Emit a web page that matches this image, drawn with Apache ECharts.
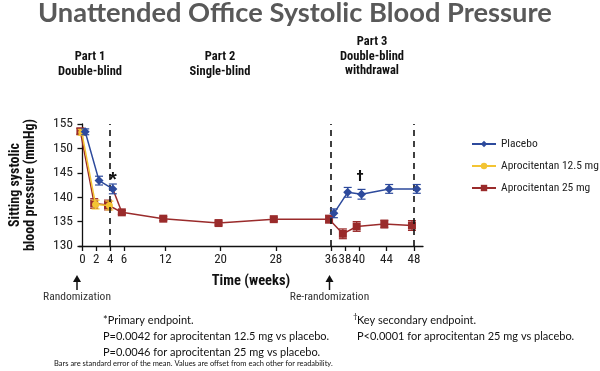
<!DOCTYPE html>
<html><head><meta charset="utf-8">
<script src="https://cdn.jsdelivr.net/npm/echarts@6/dist/echarts.min.js"></script>
<style>html,body{margin:0;padding:0;background:#fff}#c{width:600px;height:371px}</style>
</head><body><div id="c"></div>
<script>
// ---- data ----
const xTicks = [0,2,4,6,12,20,28,36,38,40,44,48];
const yTicks = [130,135,140,145,150,155];

const placeboWeeks = [0,2,4,36,38,40,44,48];
const placeboSBP   = [153.4,143.4,141.7,136.7,141.0,140.6,141.7,141.7];
const placeboSEM   = [0.6,0.9,1.0,0.9,1.0,1.0,0.9,0.9];

const apro125Weeks = [0,2,4];
const apro125SBP   = [153.3,138.5,138.3];
const apro125SEM   = [0.6,0.9,0.9];

const apro25Weeks = [0,2,4,6,12,20,28,36,38,40,44,48];
const apro25SBP   = [153.5,138.7,138.4,136.9,135.6,134.7,135.5,135.5,132.5,134.0,134.5,134.2];
const apro25SEM   = [0.6,1.0,1.0,0.4,0.4,0.4,0.4,0.8,1.0,1.0,0.8,1.0];

const seriesNames = ['Placebo','Aprocitentan 12.5 mg','Aprocitentan 25 mg'];
const phaseLines = [4,36,48];

// ---- styling ----
const BLUE='#2d4a9c', YEL='#f3c433', RED='#9a2b2b';
const NARROW='"Roboto Condensed","DejaVu Sans Condensed",sans-serif';
const CAL='Lato,"Open Sans",sans-serif';

function pts(weeks, vals, off){ return weeks.map((w,i)=>[w+off, vals[i]]); }
function errData(weeks, vals, sem, off){ return weeks.map((w,i)=>[w+off, vals[i]-sem[i], vals[i]+sem[i]]); }
function errSeries(data,color,z){
  return {type:'custom', silent:true, z:z, data:data,
    renderItem:function(params,api){
      const x=api.value(0);
      const lo=api.coord([x,api.value(1)]), hi=api.coord([x,api.value(2)]);
      const c=4;
      return {type:'group',children:[
        {type:'line',shape:{x1:lo[0],y1:lo[1],x2:hi[0],y2:hi[1]},style:{stroke:color,lineWidth:1.2}},
        {type:'line',shape:{x1:lo[0]-c,y1:lo[1],x2:lo[0]+c,y2:lo[1]},style:{stroke:color,lineWidth:1.2}},
        {type:'line',shape:{x1:hi[0]-c,y1:hi[1],x2:hi[0]+c,y2:hi[1]},style:{stroke:color,lineWidth:1.2}}
      ]};
    }};
}
const OFF_P=0.4, OFF_Y=-0.1, OFF_R=-0.3;

const chart=echarts.init(document.getElementById('c'),null,{renderer:'canvas'});
const pData=pts(placeboWeeks,placeboSBP,OFF_P);
const rData=pts(apro25Weeks,apro25SBP,OFF_R);
chart.setOption({
  animation:false,
  grid:{left:73.5,right:177,top:124,bottom:125},
  xAxis:{type:'value',min:-0.5,max:49.3,
    axisLine:{lineStyle:{color:'#111',width:1.3}},
    axisTick:{show:true,customValues:xTicks,length:5,lineStyle:{color:'#111',width:1.3}},
    axisLabel:{customValues:xTicks,color:'#222',fontFamily:NARROW,fontSize:13,margin:7},
    splitLine:{show:false},
    name:'Time (weeks)',nameLocation:'middle',nameGap:28,
    nameTextStyle:{fontFamily:NARROW,fontWeight:'bold',fontSize:14.5,color:'#111'}},
  yAxis:{type:'value',min:130,max:155,interval:5,
    axisLine:{show:true,lineStyle:{color:'#111',width:1.3}},
    axisTick:{show:true,length:5,lineStyle:{color:'#111',width:1.3}},
    axisLabel:{color:'#222',fontFamily:NARROW,fontSize:13.5,margin:6},
    splitLine:{show:false},
    name:'Sitting systolic\nblood pressure (mmHg)',nameLocation:'middle',nameGap:41,
    nameTextStyle:{fontFamily:NARROW,fontWeight:'bold',fontSize:14,color:'#111',lineHeight:15}},
  legend:{orient:'vertical',left:471,top:137,padding:0,itemGap:8,itemWidth:24,itemHeight:8,
    textStyle:{fontFamily:NARROW,fontSize:11.5,color:'#222',lineHeight:14},
    data:seriesNames},
  series:[
    {name:seriesNames[2],type:'line',data:rData,color:RED,symbol:'rect',symbolSize:8,
      lineStyle:{width:1.5},z:2,
      markLine:{silent:true,symbol:'none',label:{show:false},
        lineStyle:{color:'#111',type:[6,5],width:1.6},
        data:phaseLines.map(v=>({xAxis:v}))}},
    {type:'line',data:[pData[2],rData[3]],color:RED,symbol:'none',lineStyle:{width:1.5},z:2,silent:true},
    {name:seriesNames[1],type:'line',data:pts(apro125Weeks,apro125SBP,OFF_Y),color:YEL,symbol:'circle',symbolSize:7,lineStyle:{width:1.5},z:4},
    {name:seriesNames[0],type:'line',data:pData.slice(0,3),color:BLUE,symbol:'diamond',symbolSize:9,lineStyle:{width:1.5},z:5},
    {name:seriesNames[0],type:'line',data:pData.slice(3),color:BLUE,symbol:'diamond',symbolSize:9,lineStyle:{width:1.5},z:5},
    errSeries(errData(apro25Weeks,apro25SBP,apro25SEM,OFF_R),RED,2),
    errSeries(errData(apro125Weeks,apro125SBP,apro125SEM,OFF_Y),YEL,4),
    errSeries(errData(placeboWeeks,placeboSBP,placeboSEM,OFF_P),BLUE,5)
  ],
  graphic:[
    {type:'text',x:38,y:0,style:{text:'Unattended Office Systolic Blood Pressure',font:'bold 27.3px '+CAL,fill:'#595959'}},
    {type:'text',x:90,y:49,style:{text:'Part 1\nDouble-blind',font:'bold 12.5px '+NARROW,fill:'#111',align:'center',lineHeight:15}},
    {type:'text',x:220,y:49,style:{text:'Part 2\nSingle-blind',font:'bold 12.5px '+NARROW,fill:'#111',align:'center',lineHeight:15}},
    {type:'text',x:372,y:35,style:{text:'Part 3\nDouble-blind\nwithdrawal',font:'bold 12.5px '+NARROW,fill:'#111',align:'center',lineHeight:14.5}},
    {type:'text',z:10,x:113,y:180,style:{text:'*',font:'bold 20px "Liberation Sans",sans-serif',fill:'#111',align:'center',verticalAlign:'middle'}},
    {type:'text',x:360,y:170,style:{text:'†',font:'bold 15px '+NARROW,fill:'#111',align:'center'}},
    {type:'line',shape:{x1:77,y1:290,x2:77,y2:279},style:{stroke:'#111',lineWidth:1.5}},
    {type:'polygon',shape:{points:[[77,275],[73,282],[81,282]]},style:{fill:'#111'}},
    {type:'text',x:77,y:291,style:{text:'Randomization',font:'11.5px '+NARROW,fill:'#333',align:'center'}},
    {type:'line',shape:{x1:329.5,y1:290,x2:329.5,y2:279},style:{stroke:'#111',lineWidth:1.5}},
    {type:'polygon',shape:{points:[[329.5,275],[325.5,282],[333.5,282]]},style:{fill:'#111'}},
    {type:'text',x:329.5,y:291,style:{text:'Re-randomization',font:'11.5px '+NARROW,fill:'#333',align:'center'}},
    {type:'text',x:103,y:312,style:{text:'*Primary endpoint.\nP=0.0042 for aprocitentan 12.5 mg vs placebo.\nP=0.0046 for aprocitentan 25 mg vs placebo.',font:'11px '+CAL,fill:'#111',lineHeight:16}},
    {type:'text',x:357,y:312,style:{text:'Key secondary endpoint.\nP<0.0001 for aprocitentan 25 mg vs placebo.',font:'11px '+CAL,fill:'#111',lineHeight:16}},
    {type:'text',x:353,y:312,style:{text:'†',font:'8px '+CAL,fill:'#111'}},
    {type:'text',x:54,y:360,style:{text:'Bars are standard error of the mean. Values are offset from each other for readability.',font:'7.5px '+CAL,fill:'#111'}}
  ]
});
</script></body></html>
